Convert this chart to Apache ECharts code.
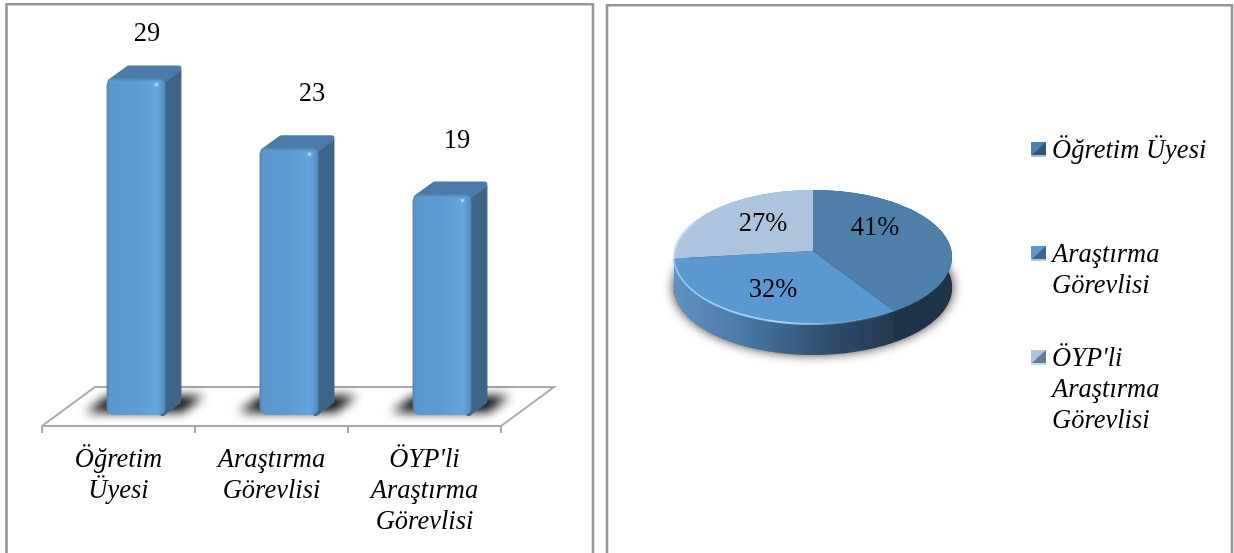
<!DOCTYPE html>
<html><head><meta charset="utf-8">
<style>html,body{margin:0;padding:0;background:#fff}#c{width:1234px;height:553px}</style>
<script src="https://cdn.jsdelivr.net/npm/echarts@6/dist/echarts.min.js"></script>
</head><body><div id="c"></div>
<script>
const categories = ['Öğretim\nÜyesi', 'Araştırma\nGörevlisi', "ÖYP'li\nAraştırma\nGörevlisi"];
const counts = [29, 23, 19];
const percentLabels = ['41%', '32%', '27%'];
const legendNames = ['Öğretim Üyesi', 'Araştırma\nGörevlisi', "ÖYP'li\nAraştırma\nGörevlisi"];

const valueLabelOffsets = [[11, -44.5], [23, -54.5], [15, -53.5]];
const pieLabelOffsets = [[62, -23], [-40, 39], [-50, -27]];
const sliceColors = ['#4e7fa9', '#5c99d0', '#adc4de'];
const serif = '"Liberation Serif","Times New Roman",serif';
const fontPx = 26.5;
const total = counts.reduce((a, b) => a + b, 0);

const PIE = {cx: 813, cy: 251, a: 138.4, b: 66.46, k: 0.0896, depth: 31};
function project(frac, dy) {
  const t = frac * 2 * Math.PI, X = Math.sin(t), Y = -Math.cos(t), w = 1 - PIE.k * Y;
  return [PIE.cx + PIE.a * X / w, PIE.cy + PIE.b * Y / w + (dy || 0)];
}
function arc(f0, f1, dy) {
  const n = Math.max(2, Math.ceil((f1 - f0) * 200)), pts = [];
  for (let i = 0; i <= n; i++) pts.push(project(f0 + (f1 - f0) * i / n, dy));
  return pts;
}
function sliceRange(i) {
  const s = counts.slice(0, i).reduce((a, b) => a + b, 0);
  return [s / total, (s + counts[i]) / total];
}
const hGrad = (x, x2, stops) => ({type: 'linear', x, y: 0, x2, y2: 0, global: true,
  colorStops: stops.map(([offset, color]) => ({offset, color}))});

const renderFloor = (p) => {
  const r = p.coordSys, y1 = r.y + r.height + 11, y0 = 387, dx = 53;
  return {type: 'polyline', shape: {points: [[r.x, y1], [r.x + dx, y0], [r.x + r.width + dx, y0], [r.x + r.width, y1]]},
    style: {fill: 'none', stroke: '#a9a9a9', lineWidth: 2}};
};
const renderBar = (p, api) => {
  const i = api.value(0), v = api.value(1);
  const [cx, yTop] = api.coord([i, v]);
  const [, y0] = api.coord([i, 0]);
  const bw = api.size([1, 0])[0] * 0.385;
  const x0 = cx + 17.5 - bw / 2, x1 = x0 + bw, dx = 16, dy = 13, h = y0 - yTop;
  const offs = valueLabelOffsets[i], far = 3000;
  return {type: 'group', children: [
    {type: 'polygon', shape: {points: [[x0 - 21 - far, y0 - 3], [x0 + 76 - far, y0 - 3], [x0 + 97 - far, y0 - 19], [x0 + 2 - far, y0 - 19]]},
      style: {fill: '#000', shadowBlur: 11, shadowColor: '#000', shadowOffsetX: far}},
    {type: 'polygon', shape: {points: [[x1 - 3, yTop + 4], [x1 + dx - 3, yTop - dy + 5], [x1 + dx - 3, y0 - dy - 1], [x1 - 3, y0 - 2]]},
      style: {fill: '#3f6587', stroke: '#3f6587', lineWidth: 6, lineJoin: 'round'}},
    {type: 'polygon', shape: {points: [[x0 + 4, yTop + 3], [x0 + dx + 6, yTop - dy + 3], [x1 + dx - 3, yTop - dy + 3], [x1 - 4, yTop + 3]]},
      style: {fill: '#4b7ba6', stroke: '#4b7ba6', lineWidth: 6, lineJoin: 'round'}},
    {type: 'rect', shape: {x: x0, y: yTop, width: bw, height: h, r: 7},
      style: {fill: {type: 'linear', x: 0, y: 0, x2: 1, y2: 0, colorStops: [
        {offset: 0, color: '#4f86b9'}, {offset: 0.06, color: '#5c97cd'}, {offset: 0.5, color: '#5f9bd1'},
        {offset: 0.86, color: '#64a3dc'}, {offset: 0.96, color: '#5a93c6'}, {offset: 1, color: '#4f86b9'}]}}},
    {type: 'rect', shape: {x: x0 + 3, y: yTop, width: bw - 6, height: 5, r: 3},
      style: {fill: {type: 'linear', x: 0, y: 0, x2: 0, y2: 1, colorStops: [
        {offset: 0, color: '#4a80b2'}, {offset: 1, color: 'rgba(110,170,225,0)'}]}}},
    {type: 'circle', shape: {cx: x1 - 9, cy: yTop + 6, r: 1.6}, style: {fill: '#a9d8f7', shadowBlur: 3, shadowColor: '#a9d8f7'}},
    {type: 'text', style: {text: String(v), x: cx + 17.5 + offs[0], y: yTop + offs[1], fill: '#000',
      fontFamily: serif, fontSize: fontPx, textAlign: 'center', textVerticalAlign: 'middle'}}
  ]};
};
const renderPieSide = (p, api) => {
  const i = p.dataIndex, [f0, f1] = sliceRange(i), kids = [];
  if (i === 0) kids.push({type: 'polygon', shape: {points: arc(0, 1, PIE.depth - 1)},
    style: {fill: '#222', shadowBlur: 12, shadowColor: 'rgba(0,0,0,.85)'}});
  const rimFill = i === 0 ? '#1f3349' : i === 1
    ? hGrad(674, 893, [[0, '#5f93c4'], [0.3, '#4a7aa6'], [0.7, '#2f4e6c'], [1, '#24394f']]) : '#5d92c4';
  kids.push({type: 'polygon', shape: {points: arc(f0, f1, 0).concat(arc(f0, f1, PIE.depth).reverse())},
    style: {fill: rimFill}});
  return {type: 'group', children: kids};
};
const renderPieTop = (p, api) => {
  const i = p.dataIndex, [f0, f1] = sliceRange(i);
  const kids = [{type: 'polygon', shape: {points: [[PIE.cx, PIE.cy]].concat(arc(f0, f1, 0))},
    style: {fill: sliceColors[i]}}];
  if (i === 1) kids.push({type: 'polyline', shape: {points: arc(f0, f1, 0)},
    style: {fill: 'none', lineWidth: 2, stroke: hGrad(674, 893, [[0, '#8fc3ef'], [0.5, '#a6d3f7'], [1, 'rgba(120,170,215,0)']])}});
  if (i === 2) kids.push({type: 'polyline', shape: {points: arc(f0, f0 + 0.09, 0)},
    style: {fill: 'none', lineWidth: 2, stroke: '#c6e0f8'}});
  const o = pieLabelOffsets[i];
  kids.push({type: 'text', style: {text: percentLabels[i], x: PIE.cx + o[0], y: PIE.cy + o[1], fill: '#000',
    fontFamily: serif, fontSize: fontPx, textAlign: 'center', textVerticalAlign: 'middle'}});
  return {type: 'group', children: kids};
};
const renderLegend = (p) => {
  const i = p.dataIndex, x = 1031, y = 142 + i * 104, s = 15;
  return {type: 'group', children: [
    {type: 'rect', shape: {x, y, width: s, height: s}, style: {fill: sliceColors[i]}},
    {type: 'polygon', shape: {points: [[x + s, y], [x + s, y + s - 2], [x + 1, y + s - 2]]}, style: {fill: 'rgba(15,35,60,.45)'}},
    {type: 'rect', shape: {x, y: y + s - 2, width: s, height: 2}, style: {fill: 'rgba(200,225,250,.7)'}},
    {type: 'text', style: {text: legendNames[i], x: 1052, y: y - 6.5, fill: '#000', fontFamily: serif, fontSize: fontPx,
      fontStyle: 'italic', lineHeight: 31, textAlign: 'left', textVerticalAlign: 'top'}}
  ]};
};

const panel = (x, y, width) => ({type: 'rect', z: -1, shape: {x, y, width, height: 620},
  style: {fill: '#fff', stroke: '#969696', lineWidth: 2.6}});

const chart = echarts.init(document.getElementById('c'), null, {renderer: 'canvas'});
const barData = counts.map((v, i) => [i, v]);
chart.setOption({
  animation: false,
  backgroundColor: '#fff',
  graphic: [panel(6.5, 4.3, 586.5), panel(607, 5.3, 625)],
  grid: {left: 42, width: 459, top: 9, bottom: 138},
  xAxis: {type: 'category', data: categories, offset: 11,
    axisLine: {show: true, onZero: false, lineStyle: {color: '#a9a9a9', width: 2}},
    axisTick: {show: true, length: 7, alignWithLabel: false, lineStyle: {color: '#a9a9a9', width: 2}},
    axisLabel: {interval: 0, margin: 19, color: '#000', fontFamily: serif, fontSize: fontPx, fontStyle: 'italic', lineHeight: 31}},
  yAxis: {type: 'value', min: 0, max: 35, show: false},
  series: [
    {type: 'custom', coordinateSystem: 'cartesian2d', renderItem: renderFloor, data: [[0, 0]], silent: true, clip: false, z: 1},
    {type: 'custom', coordinateSystem: 'cartesian2d', renderItem: renderBar, data: barData, encode: {x: 0, y: 1}, silent: true, clip: false, z: 2},
    {type: 'custom', coordinateSystem: 'none', renderItem: renderPieSide, data: counts.map(v => [v]), silent: true, z: 2},
    {type: 'custom', coordinateSystem: 'none', renderItem: renderPieTop, data: counts.map(v => [v]), silent: true, z: 3},
    {type: 'custom', coordinateSystem: 'none', renderItem: renderLegend, data: legendNames.map((n, i) => [i]), silent: true, z: 3}
  ]
});
</script></body></html>
